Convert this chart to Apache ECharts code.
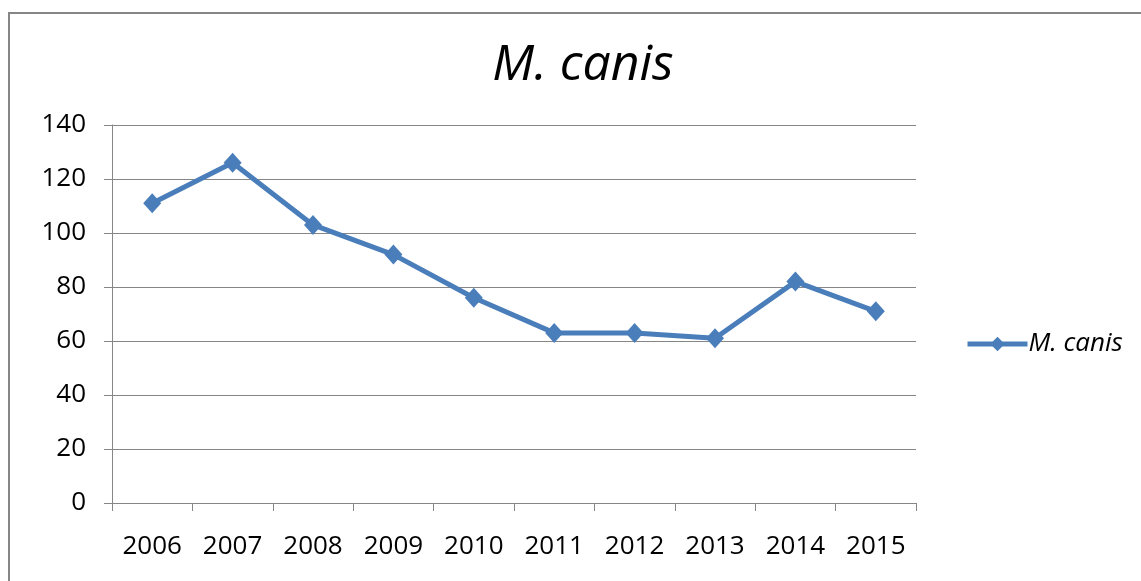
<!DOCTYPE html>
<html>
<head>
<meta charset="utf-8">
<script src="https://cdn.jsdelivr.net/npm/echarts@6/dist/echarts.min.js"></script>
<style>
html,body{margin:0;padding:0;background:#fff;}
#chart{width:1141px;height:581px;}
</style>
</head>
<body>
<div id="chart"></div>
<script>
var years = ['2006','2007','2008','2009','2010','2011','2012','2013','2014','2015'];
var canis = [111, 126, 103, 92, 76, 63, 63, 61, 82, 71];
var yTicks = [0, 20, 40, 60, 80, 100, 120, 140];

var myChart = echarts.init(document.getElementById('chart'));
var font = '"Open Sans", "DejaVu Sans", sans-serif';
var option = {
    backgroundColor: '#fff',
    animation: false,
    graphic: [{
        type: 'rect',
        shape: {x: 9, y: 13, width: 1200, height: 620},
        style: {fill: 'none', stroke: '#868686', lineWidth: 2}
    }],
    title: {
        text: 'M. canis',
        left: 578,
        top: 36,
        textAlign: 'center',
        textStyle: {fontFamily: font, fontStyle: 'italic', fontWeight: 'normal', fontSize: 50, color: '#000'}
    },
    legend: {
        data: ['M. canis'],
        left: 960,
        top: 326,
        itemWidth: 60,
        itemHeight: 18,
        itemGap: 4,
        lineStyle: {width: 5},
        textStyle: {fontFamily: font, fontStyle: 'italic', fontSize: 26, color: '#000', padding: [0, 0, 0, -4]}
    },
    grid: {left: 112, right: 225, top: 125, bottom: 78},
    xAxis: {
        type: 'category',
        data: years,
        boundaryGap: true,
        axisLine: {lineStyle: {color: '#868686', width: 1}},
        axisTick: {show: true, length: 8, alignWithLabel: false, lineStyle: {color: '#868686'}},
        axisLabel: {fontFamily: font, fontSize: 26, color: '#000', margin: 31}
    },
    yAxis: {
        type: 'value',
        min: yTicks[0],
        max: yTicks[yTicks.length - 1],
        interval: 20,
        axisLine: {show: true, lineStyle: {color: '#868686', width: 1}},
        axisTick: {show: true, length: 8, lineStyle: {color: '#868686'}},
        axisLabel: {fontFamily: font, fontSize: 26, color: '#000', margin: 26},
        splitLine: {lineStyle: {color: '#868686', width: 1}}
    },
    series: [{
        name: 'M. canis',
        type: 'line',
        data: canis,
        symbol: 'diamond',
        symbolSize: [18, 20],
        itemStyle: {color: '#4a7ebb'},
        lineStyle: {color: '#4a7ebb', width: 5}
    }]
};
myChart.setOption(option);
</script>
</body>
</html>
